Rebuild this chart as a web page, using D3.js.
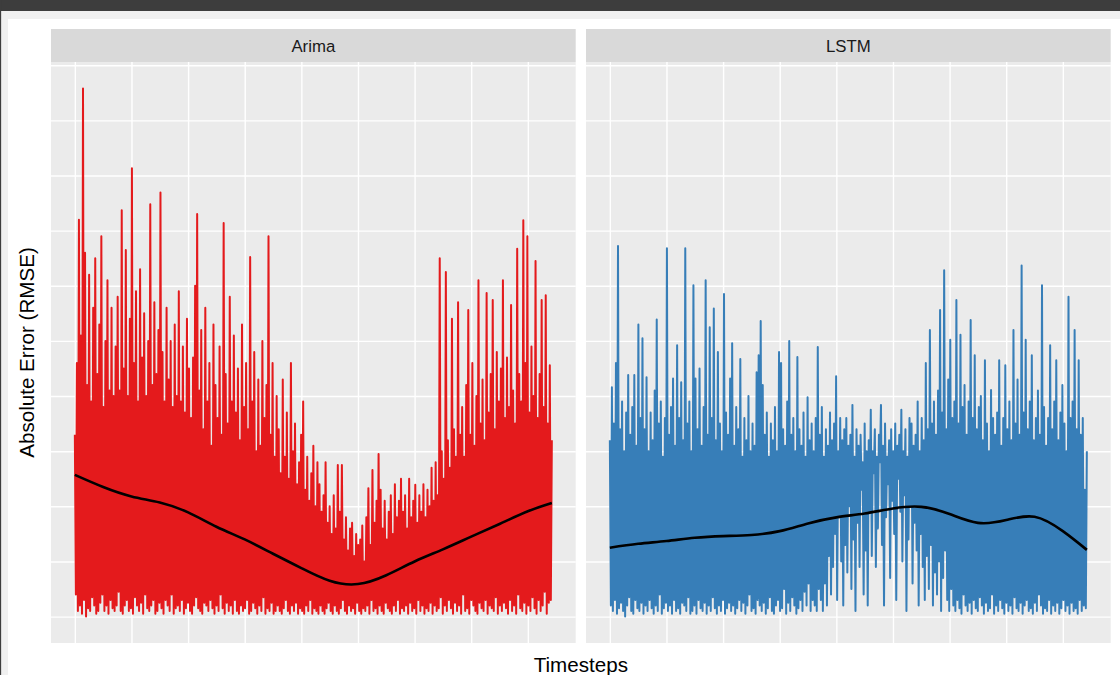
<!DOCTYPE html>
<html>
<head>
<meta charset="utf-8">
<script src="https://cdn.jsdelivr.net/npm/d3@7"></script>
<style>
  html, body { margin: 0; padding: 0; background: #ffffff; }
  svg { display: block; }
</style>
</head>
<body>
<svg id="chart" width="1120" height="675"></svg>
<script>
// ---- data -------------------------------------------------------------
const facets = ["Arima", "LSTM"];
const facetColors = ["#E41A1C", "#377EB8"];

// timesteps between consecutive recorded errors
const sampleStride = 9;

// local maxima / minima of the absolute error, alternating in time
const arimaPeaks = [
  3.3, 4.6, 7.2, 5.1, 9.58, 6.6, 4.2, 6.2, 3.9, 5.6,
  6.5, 4.4, 5.3, 6.9, 3.8, 5.0, 6.1, 4.1, 5.6, 4.0,
  4.9, 5.8, 4.1, 7.37, 4.5, 6.65, 4.0, 5.4, 8.13, 4.6,
  5.9, 3.9, 6.3, 4.7, 5.5, 4.0, 5.0, 7.48, 4.2, 5.7,
  4.4, 5.2, 7.69, 4.8, 3.9, 5.6, 4.3, 5.0, 3.8, 5.3,
  4.0, 5.9, 3.9, 4.9, 3.7, 5.4, 4.5, 3.6, 4.7, 6.0,
  7.30, 4.1, 5.2, 3.4, 5.6, 3.9, 4.6, 3.1, 5.3, 4.2,
  3.6, 4.9, 3.3, 7.14, 4.4, 3.5, 5.8, 3.9, 5.1, 3.7,
  4.5, 3.2, 5.3, 3.8, 4.6, 3.4, 6.52, 3.9, 4.8, 3.0,
  4.3, 3.1, 5.0, 3.6, 4.2, 6.90, 3.3, 4.6, 2.9, 4.0,
  3.4, 2.6, 4.3, 2.9, 3.7, 2.5, 4.6, 3.0, 3.5, 2.4,
  2.8, 3.3, 3.9, 2.3, 2.9, 2.1, 2.6, 3.1, 2.0, 2.8,
  2.4, 1.9, 2.2, 2.80, 1.7, 2.0, 1.5, 2.2, 1.6, 2.75,
  1.9, 2.75, 1.4, 1.8, 1.2, 1.6, 1.7, 1.1, 1.5, 1.3,
  1.4, 1.65, 1.0, 1.8, 2.33, 1.3, 2.66, 1.7, 2.1, 2.95,
  2.3, 1.6, 2.1, 1.4, 1.9, 2.2, 1.5, 2.4, 1.8, 2.1,
  2.5, 1.9, 2.2, 1.6, 2.5, 1.8, 2.1, 2.39, 1.7, 2.2,
  1.9, 2.4, 1.8, 2.3, 2.0, 2.7, 2.1, 2.8, 2.2, 6.5,
  3.0, 2.5, 6.25, 3.2, 2.7, 5.4, 3.4, 2.9, 5.7, 3.3,
  3.8, 2.9, 4.2, 5.56, 3.3, 4.6, 3.1, 4.0, 6.1, 3.5,
  4.3, 3.2, 5.87, 3.7, 4.4, 5.74, 3.4, 4.8, 3.9, 4.5,
  6.1, 3.6, 4.7, 3.8, 5.65, 4.1, 3.5, 6.67, 4.4, 3.9,
  7.19, 4.6, 6.9, 3.7, 4.9, 4.0, 6.45, 3.6, 4.4, 5.74,
  3.8, 5.83, 3.5, 4.56, 3.2
];
const arimaTroughs = [
  0.4, 0.1, 0.2, 0.05, 0.3, 0.0, 0.15, 0.1, 0.35, 0.2, 0.05, 0.1, 0.25, 0.4, 0.1, 0.2, 0.05, 0.3, 0.15, 0.1,
  0.2, 0.45, 0.1, 0.05, 0.2, 0.3, 0.1, 0.15, 0.05, 0.35, 0.2, 0.1, 0.25, 0.05, 0.4, 0.15, 0.1, 0.2, 0.3, 0.05,
  0.1, 0.25, 0.15, 0.05, 0.3, 0.2, 0.1, 0.4, 0.05, 0.15, 0.2, 0.1, 0.3, 0.05, 0.15, 0.25, 0.1, 0.05, 0.2, 0.35,
  0.15, 0.1, 0.05, 0.25, 0.2, 0.1, 0.3, 0.15, 0.05, 0.2, 0.1, 0.4, 0.15, 0.05, 0.25, 0.1, 0.2, 0.05, 0.3, 0.1,
  0.05, 0.2, 0.1, 0.15, 0.3, 0.05, 0.1, 0.25, 0.15, 0.05, 0.2, 0.1, 0.35, 0.05, 0.15, 0.1, 0.25, 0.05, 0.1, 0.2,
  0.1, 0.05, 0.15, 0.3, 0.1, 0.05, 0.2, 0.1, 0.25, 0.05, 0.15, 0.1, 0.05, 0.2, 0.1, 0.3, 0.05, 0.15, 0.1, 0.05,
  0.2, 0.1, 0.05, 0.15, 0.25, 0.1, 0.05, 0.2, 0.1, 0.05, 0.15, 0.3, 0.1, 0.05, 0.2, 0.1, 0.15, 0.05, 0.25, 0.1,
  0.05, 0.15, 0.1, 0.2, 0.05, 0.3, 0.1, 0.15, 0.05, 0.2, 0.1, 0.05, 0.25, 0.15, 0.1, 0.05, 0.2, 0.1, 0.3, 0.05,
  0.15, 0.1, 0.2, 0.05, 0.25, 0.1, 0.15, 0.05, 0.3, 0.1, 0.2, 0.05, 0.15, 0.1, 0.25, 0.05, 0.2, 0.1, 0.15, 0.35,
  0.05, 0.2, 0.1, 0.3, 0.15, 0.05, 0.25, 0.1, 0.2, 0.05, 0.4, 0.1, 0.15, 0.05, 0.3, 0.2, 0.1, 0.05, 0.25, 0.15,
  0.1, 0.3, 0.05, 0.2, 0.15, 0.1, 0.35, 0.05, 0.2, 0.1, 0.25, 0.15, 0.05, 0.3, 0.1, 0.2, 0.05, 0.4, 0.15, 0.1,
  0.25, 0.05, 0.2, 0.1, 0.35, 0.15, 0.05, 0.3, 0.1, 0.2, 0.45, 0.05, 0.25, 0.3
];

const lstmPeaks = [
  3.2, 4.16, 3.5, 4.6, 6.72, 3.4, 3.9, 3.0, 3.7, 4.38,
  3.3, 3.8, 4.38, 3.1, 5.30, 3.6, 5.05, 3.4, 4.34, 3.0,
  3.7, 3.2, 4.1, 5.39, 3.5, 3.9, 2.9, 3.6, 6.68, 3.3,
  3.8, 4.32, 3.1, 4.92, 3.6, 4.25, 3.2, 6.68, 3.5, 3.9,
  3.0, 6.01, 4.32, 3.4, 4.5, 3.1, 3.8, 6.10, 3.3, 5.25,
  3.6, 5.59, 3.2, 4.8, 3.5, 3.0, 5.85, 3.7, 3.3, 4.32,
  4.96, 3.1, 3.8, 3.4, 4.67, 2.9, 3.6, 3.2, 4.0, 3.0,
  3.5, 3.1, 4.43, 4.74, 5.36, 4.2, 3.3, 3.7, 2.9, 3.5,
  3.2, 3.8, 3.0, 4.8, 4.6, 3.4, 3.1, 3.9, 5.00, 3.3,
  3.6, 3.0, 4.71, 3.4, 3.1, 3.7, 2.9, 3.98, 3.2, 3.5,
  3.0, 3.6, 4.89, 3.3, 3.8, 2.9, 3.4, 3.1, 3.7, 3.2,
  3.5, 4.36, 3.0, 3.6, 3.2, 3.4, 3.6, 3.1, 3.3, 3.84,
  2.9, 3.4, 3.1, 3.3, 2.8, 3.5, 3.0, 3.2, 3.75, 3.0,
  3.4, 2.9, 3.3, 3.84, 3.1, 3.5, 2.9, 3.2, 3.4, 3.0,
  3.5, 3.1, 3.3, 3.75, 3.0, 3.4, 2.9, 3.6, 3.5, 3.1,
  3.3, 3.9, 3.0, 3.6, 3.2, 4.6, 3.4, 5.20, 3.5, 3.9,
  3.3, 4.1, 5.56, 3.7, 6.28, 3.4, 4.3, 5.02, 3.6, 3.9,
  5.74, 3.5, 5.11, 3.8, 4.2, 3.3, 3.9, 5.38, 3.6, 4.74,
  3.4, 3.8, 4.0, 3.2, 4.65, 3.5, 3.0, 4.11, 3.6, 3.3,
  3.7, 4.65, 3.1, 3.6, 4.56, 3.4, 3.9, 3.2, 5.20, 3.5,
  4.3, 3.3, 6.37, 3.7, 5.02, 3.4, 3.9, 4.74, 3.2, 3.6,
  4.1, 3.3, 6.01, 3.8, 3.1, 3.6, 4.92, 3.4, 3.9, 4.65,
  3.2, 3.7, 4.2, 3.5, 3.0, 5.80, 3.6, 3.9, 5.20, 3.4,
  4.65, 3.3, 3.6, 2.3, 3.0
];
const lstmTroughs = [
  0.2, 0.1, 0.3, 0.05, 0.15, 0.25, 0.1, 0.0, 0.2, 0.35, 0.1, 0.05, 0.3, 0.15, 0.1, 0.25, 0.05, 0.2, 0.1, 0.3,
  0.15, 0.05, 0.2, 0.1, 0.4, 0.05, 0.15, 0.25, 0.1, 0.2, 0.05, 0.3, 0.1, 0.15, 0.05, 0.25, 0.2, 0.1, 0.35, 0.05,
  0.1, 0.2, 0.05, 0.3, 0.15, 0.1, 0.25, 0.05, 0.2, 0.1, 0.35, 0.15, 0.05, 0.2, 0.1, 0.3, 0.05, 0.15, 0.25, 0.1,
  0.2, 0.05, 0.15, 0.3, 0.1, 0.25, 0.05, 0.2, 0.4, 0.1, 0.15, 0.05, 0.3, 0.2, 0.1, 0.25, 0.05, 0.15, 0.35, 0.1,
  0.05, 0.2, 0.3, 0.1, 0.15, 0.5, 0.05, 0.25, 0.1, 0.35, 0.2, 0.05, 0.15, 0.3, 0.1, 0.45, 0.2, 0.6, 0.1, 0.3,
  0.2, 0.1, 0.5, 0.3, 0.1, 0.6, 0.2, 1.1, 0.4, 0.9, 1.5, 0.3, 1.8, 1.0, 0.2, 1.3, 0.8, 2.0, 0.5, 1.4,
  0.1, 1.7, 0.9, 2.3, 0.4, 1.2, 0.2, 1.9, 1.1, 2.6, 0.9, 1.6, 2.8, 1.3, 0.2, 1.8, 2.4, 0.7, 2.1, 1.5,
  0.3, 2.5, 1.9, 1.0, 2.2, 0.1, 1.4, 2.0, 0.6, 1.7, 1.2, 0.2, 1.5, 0.9, 0.3, 1.1, 0.5, 1.3, 0.2, 0.8,
  0.4, 1.0, 0.1, 0.7, 1.2, 0.3, 0.1, 0.5, 0.2, 0.1, 0.3, 0.15, 0.05, 0.4, 0.2, 0.1, 0.25, 0.05, 0.3, 0.15,
  0.1, 0.35, 0.2, 0.05, 0.25, 0.1, 0.15, 0.4, 0.05, 0.2, 0.1, 0.3, 0.15, 0.05, 0.25, 0.1, 0.2, 0.05, 0.35, 0.15,
  0.1, 0.25, 0.05, 0.2, 0.3, 0.1, 0.15, 0.05, 0.25, 0.1, 0.4, 0.2, 0.05, 0.15, 0.1, 0.3, 0.05, 0.2, 0.1, 0.25,
  0.05, 0.15, 0.3, 0.1, 0.2, 0.05, 0.25, 0.1, 0.15, 0.05, 0.3, 0.1, 0.2, 0.15
];

// loess trend evaluated along the run
const smoothSteps = [0, 250, 500, 750, 1000, 1250, 1500, 1750, 2000, 2250,
                     2500, 2750, 3000, 3250, 3500, 3750, 4000, 4212];
const arimaSmooth = [2.57, 2.35, 2.18, 2.07, 1.89, 1.63, 1.40, 1.14, 0.88, 0.65,
                     0.59, 0.75, 1.00, 1.22, 1.45, 1.68, 1.91, 2.06];
const lstmSmooth  = [1.25, 1.32, 1.37, 1.43, 1.46, 1.48, 1.55, 1.69, 1.80, 1.87,
                     1.96, 1.99, 1.86, 1.70, 1.75, 1.81, 1.55, 1.21];

// ---- helpers ----------------------------------------------------------
function buildSeries(peaks, troughs) {
  const out = [];
  peaks.forEach((p, i) => {
    out.push({ t: 2 * i * sampleStride, v: p });
    if (i < troughs.length) out.push({ t: (2 * i + 1) * sampleStride, v: troughs[i] });
  });
  return out;
}
function expand(lo, hi, mult) {
  const pad = (hi - lo) * mult;
  return [lo - pad, hi + pad];
}

const series = [
  buildSeries(arimaPeaks, arimaTroughs),
  buildSeries(lstmPeaks, lstmTroughs)
];
const smooths = [
  smoothSteps.map((t, i) => ({ t, v: arimaSmooth[i] })),
  smoothSteps.map((t, i) => ({ t, v: lstmSmooth[i] }))
];

// ---- layout -----------------------------------------------------------
const W = 1120, H = 675;
const panelTop = 62, panelBottom = 643;
const panelLefts = [51, 586];
const panelW = 524.7;
const panelH = panelBottom - panelTop;
const stripTop = 29;
const font = "'Liberation Sans', Arial, Helvetica, sans-serif";

const svg = d3.select("#chart");

// window chrome around the plot
svg.append("rect").attr("x", 0).attr("y", 0).attr("width", W).attr("height", H).attr("fill", "#ffffff");
svg.append("rect").attr("x", 0).attr("y", 0).attr("width", W).attr("height", 11).attr("fill", "#3d3d3d");
svg.append("rect").attr("x", 1.4).attr("y", 11).attr("width", W).attr("height", 8).attr("fill", "#f0f0f0");
svg.append("rect").attr("x", 0).attr("y", 0).attr("width", 1.4).attr("height", H).attr("fill", "#3d3d3d");
svg.append("rect").attr("x", 1.4).attr("y", 11).attr("width", 6.6).attr("height", H).attr("fill", "#f0f0f0");

// both facets share the x and y scales
const allT = series.flat().map(d => d.t);
const allV = series.flat().map(d => d.v);
const x = d3.scaleLinear().domain(expand(d3.min(allT), d3.max(allT), 0.05)).range([0, panelW]);
const y = d3.scaleLinear().domain(expand(d3.min(allV), d3.max(allV), 0.05)).range([panelH, 0]);

const line = d3.line().x(d => x(d.t)).y(d => y(d.v));
const trend = d3.line().x(d => x(d.t)).y(d => y(d.v)).curve(d3.curveNatural);

facets.forEach((name, k) => {
  const g = svg.append("g").attr("transform", `translate(${panelLefts[k]},${panelTop})`);

  // panel background
  g.append("rect").attr("width", panelW).attr("height", panelH).attr("fill", "#EBEBEB");

  // grid lines drawn from the axes
  const gx = g.append("g").attr("transform", `translate(0,${panelH})`)
    .call(d3.axisBottom(x).ticks(10).tickSizeInner(-panelH).tickSizeOuter(0).tickFormat(""));
  const gy = g.append("g")
    .call(d3.axisLeft(y).ticks(10).tickSizeInner(-panelW).tickSizeOuter(0).tickFormat(""));
  [gx, gy].forEach(a => {
    a.select(".domain").remove();
    a.selectAll("line").attr("stroke", "#ffffff").attr("stroke-width", 1.4);
  });

  const clipId = "clip" + k;
  g.append("clipPath").attr("id", clipId)
    .append("rect").attr("width", panelW).attr("height", panelH);

  const plot = g.append("g").attr("clip-path", `url(#${clipId})`);

  plot.append("path")
    .datum(series[k])
    .attr("d", line)
    .attr("fill", "none")
    .attr("stroke", facetColors[k])
    .attr("stroke-width", 2)
    .attr("stroke-linejoin", "round");

  plot.append("path")
    .datum(smooths[k])
    .attr("d", trend)
    .attr("fill", "none")
    .attr("stroke", "#000000")
    .attr("stroke-width", 2.6)
    .attr("stroke-linecap", "butt");

  // facet strip
  svg.append("rect")
    .attr("x", panelLefts[k]).attr("y", stripTop)
    .attr("width", panelW).attr("height", panelTop - stripTop)
    .attr("fill", "#D9D9D9");
  svg.append("text")
    .attr("x", panelLefts[k] + panelW / 2).attr("y", 51.5)
    .attr("text-anchor", "middle")
    .attr("font-family", font).attr("font-size", 16.8)
    .attr("fill", "#1A1A1A")
    .text(name);
});

// axis titles
svg.append("text")
  .attr("x", (panelLefts[0] + panelLefts[1] + panelW) / 2).attr("y", 672)
  .attr("text-anchor", "middle")
  .attr("font-family", font).attr("font-size", 20.6)
  .attr("fill", "#000000")
  .text("Timesteps");

svg.append("text")
  .attr("transform", `translate(34,${(panelTop + panelBottom) / 2}) rotate(-90)`)
  .attr("text-anchor", "middle")
  .attr("font-family", font).attr("font-size", 20.6)
  .attr("fill", "#000000")
  .text("Absolute Error (RMSE)");
</script>
</body>
</html>
